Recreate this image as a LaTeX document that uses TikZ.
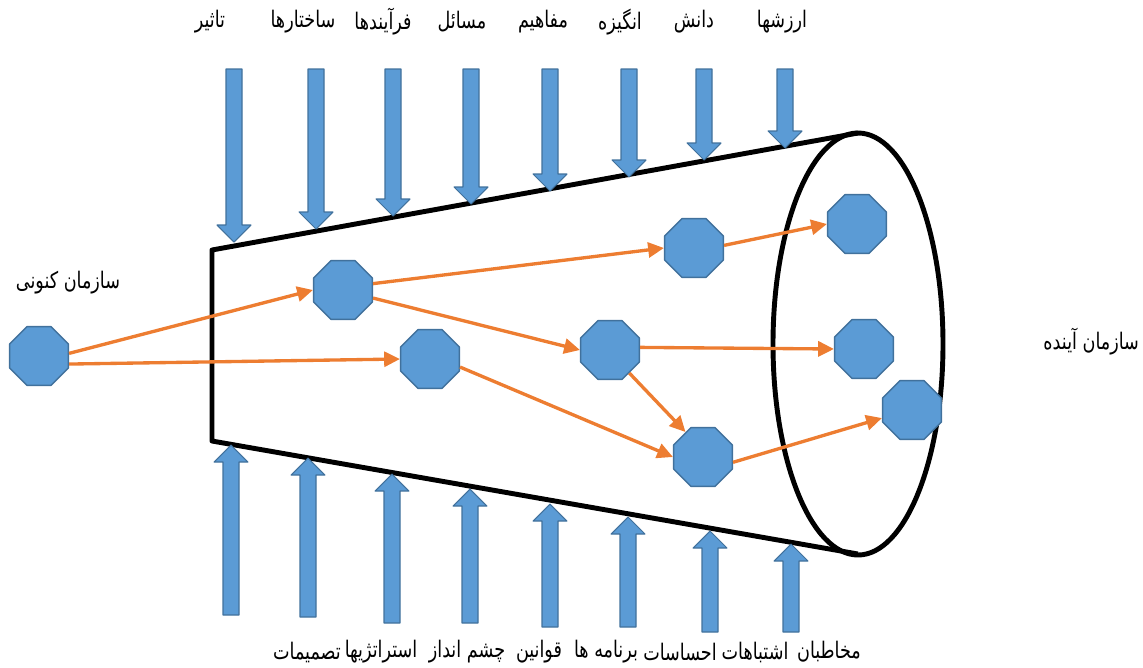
\documentclass[tikz,border=0pt]{standalone}
\usepackage{fontspec}
\usetikzlibrary{shapes.geometric,arrows.meta}
\newfontfamily\fafont[Script=Arabic,FakeStretch=0.77]{DejaVu Sans}
\TeXXeTstate=1
\newcommand\fatext[1]{\beginR #1\endR}

\begin{document}
\begin{tikzpicture}[x=0.02cm,y=-0.02cm,line join=round]
  % Styles
  \tikzset{
    octnode/.style={regular polygon, regular polygon sides=8, minimum size=1.27cm,
      inner sep=0pt, fill=octfill, draw=octline, line width=0.8pt},
    flow/.style={draw=flowclr, line width=1.9pt, -{Triangle[length=9pt,width=8.5pt]}},
    blkarrow/.style={fill=octfill, draw=octline, line width=0.6pt},
    cone/.style={line width=2.8pt},
    fatxt/.style={font=\fafont\fontsize{13}{15}\selectfont, inner sep=1pt}
  }

  % Colors
  \definecolor{octfill}{HTML}{5B9BD5}
  \definecolor{octline}{HTML}{41719C}
  \definecolor{flowclr}{HTML}{ED7D31}

  \useasboundingbox (0,0) rectangle (1143,667);

  % Cone
  \draw[cone] (858,133) -- (212,250) -- (212,441) -- (858,554);
  \draw[cone] (858,344) ellipse [x radius=85, y radius=211];

  % Arrows from above
  \foreach \x/\t in {234/242,316/229,393/216,471/204,550/191,629/177,704/160,785/148}
    \draw[blkarrow] (\x-8,69) -- (\x+8,69) -- (\x+8,\t-17) -- (\x+17,\t-17)
      -- (\x,\t) -- (\x-17,\t-17) -- (\x-8,\t-17) -- cycle;

  % Arrows from below
  \foreach \x/\t/\b in {231/445/615,308/458/617,392/474/623,470/489/623,
                         550/504/627,628/517/627,710/531/632,791/544/632}
    \draw[blkarrow] (\x-8,\b) -- (\x+8,\b) -- (\x+8,\t+17) -- (\x+17,\t+17)
      -- (\x,\t) -- (\x-17,\t+17) -- (\x-8,\t+17) -- cycle;

  % Labels
  \foreach \x/\txt [count=\i] in {210/تاثیر,303/ساختارها,383/فرآیندها,462/مسائل,
                                   543/مفاهیم,620/انگیزه,694/دانش,782/ارزشها}
    \node[fatxt] (top\i) at (\x,22) {\fatext{\txt}};
  \foreach \x/\txt [count=\i] in {307/تصمیمات,381/استراتژیها,467/چشم انداز,539/قوانین,
                                   606/برنامه ها,680/احساسات,755/اشتباهات,829/مخاطبان}
    \node[fatxt] (bot\i) at (\x,652) {\fatext{\txt}};
  \node[fatxt] (curtxt) at (68,283) {\fatext{سازمان کنونی}};
  \node[fatxt,anchor=east] (futtxt) at (1141,342) {\fatext{سازمان آینده}};

  % Nodes
  \node[octnode] (cur) at (39,356) {};
  \node[octnode] (s1) at (343,290) {};
  \node[octnode] (s2) at (430,359) {};
  \node[octnode] (s3) at (694,248) {};
  \node[octnode] (s4) at (610,350) {};
  \node[octnode] (s5) at (703,457) {};
  \node[octnode] (fut1) at (857,224) {};
  \node[octnode] (fut2) at (864,349) {};
  \node[octnode] (fut3) at (912,410) {};

  % Paths
  \draw[flow] (cur.5) -- (s1.west);
  \draw[flow] (cur.-15) -- (s2.west);
  \draw[flow] (s1.12) -- (s3.west);
  \draw[flow] (s1.-15) -- (s4.west);
  \draw[flow] (s3.5) -- (fut1.west);
  \draw[flow] (s2.-15) -- (s5.west);
  \draw[flow] (s4.5) -- (fut2.west);
  \draw[flow] (s4.-50) -- (s5.125);
  \draw[flow] (s5.-10) -- (fut3.-165);
\end{tikzpicture}
\end{document}
